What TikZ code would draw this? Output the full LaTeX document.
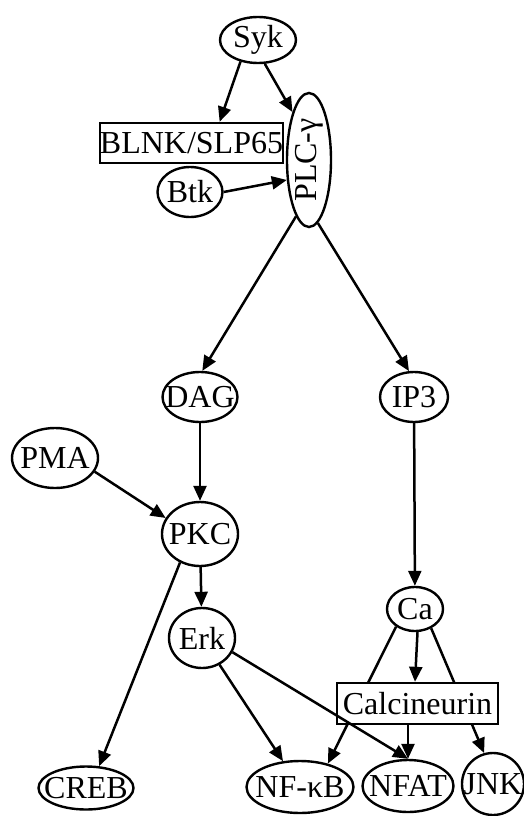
\documentclass[tikz,border=0pt]{standalone}
\usepackage{fontspec}
\usepackage{graphicx}
\setmainfont{Liberation Serif}
\usetikzlibrary{arrows.meta,shapes.geometric}
\newcommand{\zw}[1]{\makebox[0pt]{#1}}
\begin{document}
\begin{tikzpicture}[x=1pt,y=-1pt,
  every node/.style={font=\fontsize{32}{34}\selectfont, inner sep=0pt, line width=2.4pt, draw, fill=white},
  ell/.style={ellipse},
  box/.style={rectangle},
  edge/.style={draw, line width=2.5pt, -{Triangle[length=15pt,width=13pt]}}]
\useasboundingbox (0,0) rectangle (523,816);
\node[ell, minimum width=76pt, minimum height=46pt] (syk) at (258,40) {\zw{Syk}};
\node[ell, minimum width=44pt, minimum height=134pt] (plc) at (309,160) {\rotatebox{90}{PLC-γ}};
\node[box, minimum width=183pt, minimum height=40pt] (blnk) at (191.5,143) {BLNK/SLP65};
\node[ell, minimum width=65pt, minimum height=50pt] (btk) at (190,192) {\zw{Btk}};
\node[ell, minimum width=75pt, minimum height=50pt] (dag) at (200,397) {\zw{DAG}};
\node[ell, minimum width=68pt, minimum height=50pt] (ip3) at (414,397) {\zw{IP3}};
\node[ell, minimum width=86pt, minimum height=60pt] (pma) at (55,458) {\zw{PMA}};
\node[ell, minimum width=76pt, minimum height=64pt] (pkc) at (200,534) {\zw{PKC}};
\node[ell, minimum width=66pt, minimum height=60pt] (erk) at (202,638) {\zw{Erk}};
\node[ell, minimum width=56pt, minimum height=44pt] (ca) at (415,609) {\zw{Ca}};
\node[ell, minimum width=95pt, minimum height=43pt] (creb) at (86,788) {\zw{CREB}};
\node[ell, minimum width=107pt, minimum height=52pt] (nfkb) at (300,787) {\zw{NF-κB}};
\node[ell, minimum width=91pt, minimum height=52pt] (nfat) at (408,786) {\zw{NFAT}};
\node[ell, minimum width=62pt, minimum height=62pt] (jnk) at (493,784) {\zw{JNK}};
% edges passing behind the Calcineurin box
\draw[edge] (ca.223) -- (nfkb.40);
\draw[edge] (ca.310) -- (jnk.106);
\node[box, minimum width=161pt, minimum height=41pt] (calc) at (417.5,703.5) {Calcineurin};
% remaining edges
\draw[edge] (syk.231) -- (blnk.37);
\draw[edge] (syk.-74) -- (plc.109);
\draw[edge] (btk.0) -- (plc.222);
\draw[edge] (plc.257) -- (dag.85);
\draw[edge] (plc.278) -- (ip3.101);
\draw[edge] (dag) -- (pkc);
\draw[edge] (pma.-19) -- (pkc.155);
\draw[edge] (ip3) -- (ca);
\draw[edge] (pkc) -- (erk);
\draw[edge] (pkc.235) -- (creb.59);
\draw[edge] (erk) -- (nfkb);
\draw[edge] (erk.-25) -- (nfat.north);
\draw[edge] (ca.south -| calc.north) -- (calc.north -| ca.south);
\draw[edge] (calc.south -| nfat.north) -- (nfat.north);
\end{tikzpicture}
\end{document}
